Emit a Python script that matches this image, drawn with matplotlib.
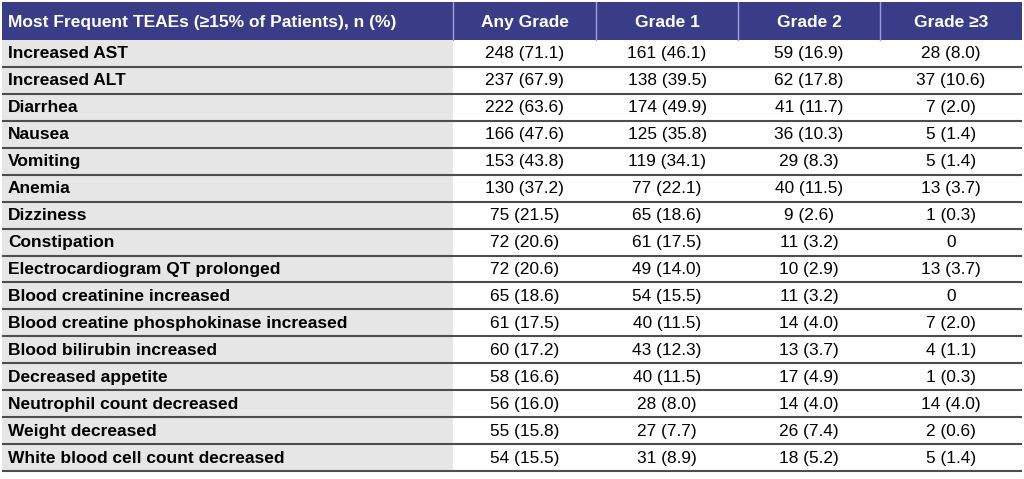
import matplotlib
matplotlib.use("Agg")
import matplotlib.pyplot as plt
from matplotlib.patches import Rectangle

plt.rcParams['font.family'] = ['Liberation Sans', 'DejaVu Sans']

header = ["Most Frequent TEAEs (\u226515% of Patients), n (%)",
          "Any Grade", "Grade 1", "Grade 2", "Grade \u22653"]

events = ["Increased AST", "Increased ALT", "Diarrhea", "Nausea", "Vomiting",
          "Anemia", "Dizziness", "Constipation", "Electrocardiogram QT prolonged",
          "Blood creatinine increased", "Blood creatine phosphokinase increased",
          "Blood bilirubin increased", "Decreased appetite",
          "Neutrophil count decreased", "Weight decreased",
          "White blood cell count decreased"]

any_grade = ["248 (71.1)", "237 (67.9)", "222 (63.6)", "166 (47.6)", "153 (43.8)",
             "130 (37.2)", "75 (21.5)", "72 (20.6)", "72 (20.6)", "65 (18.6)",
             "61 (17.5)", "60 (17.2)", "58 (16.6)", "56 (16.0)", "55 (15.8)",
             "54 (15.5)"]
grade1 = ["161 (46.1)", "138 (39.5)", "174 (49.9)", "125 (35.8)", "119 (34.1)",
          "77 (22.1)", "65 (18.6)", "61 (17.5)", "49 (14.0)", "54 (15.5)",
          "40 (11.5)", "43 (12.3)", "40 (11.5)", "28 (8.0)", "27 (7.7)",
          "31 (8.9)"]
grade2 = ["59 (16.9)", "62 (17.8)", "41 (11.7)", "36 (10.3)", "29 (8.3)",
          "40 (11.5)", "9 (2.6)", "11 (3.2)", "10 (2.9)", "11 (3.2)",
          "14 (4.0)", "13 (3.7)", "17 (4.9)", "14 (4.0)", "26 (7.4)",
          "18 (5.2)"]
grade3 = ["28 (8.0)", "37 (10.6)", "7 (2.0)", "5 (1.4)", "5 (1.4)",
          "13 (3.7)", "1 (0.3)", "0", "13 (3.7)", "0",
          "7 (2.0)", "4 (1.1)", "1 (0.3)", "14 (4.0)", "2 (0.6)",
          "5 (1.4)"]

columns = [any_grade, grade1, grade2, grade3]

# layout in pixels
col_edges = [2, 453, 596, 738, 880, 1022]
header_top = 2
header_bottom = 40
row_h = (471 - header_bottom) / len(events)

navy = "#393d88"
gray_bg = "#e6e6e6"
line_c = "#4d4d4d"

fig = plt.figure(figsize=(10.24, 4.79), dpi=100)
ax = fig.add_axes([0, 0, 1, 1])
ax.set_xlim(0, 1024)
ax.set_ylim(479, 0)
ax.axis("off")

# header
ax.add_patch(Rectangle((col_edges[0], header_top), col_edges[-1] - col_edges[0],
                       header_bottom - header_top, facecolor=navy, edgecolor="none"))
for x in col_edges[1:-1]:
    ax.plot([x, x], [header_top, header_bottom], color="#9aa0d8", lw=1.0)
ax.text(col_edges[0] + 6, (header_top + header_bottom) / 2 + 1, header[0],
        color="white", fontsize=12.55, fontweight="bold", ha="left", va="center")
for j in range(1, 5):
    cx = (col_edges[j] + col_edges[j + 1]) / 2
    ax.text(cx, (header_top + header_bottom) / 2 + 1, header[j], color="white",
            fontsize=12.55, fontweight="bold", ha="center", va="center")

# first column background
ax.add_patch(Rectangle((col_edges[0], header_bottom), col_edges[1] - col_edges[0],
                       row_h * len(events), facecolor=gray_bg, edgecolor="none"))

for i, ev in enumerate(events):
    y0 = header_bottom + i * row_h
    cy = y0 + row_h / 2 + 0.5
    ax.text(col_edges[0] + 6, cy, ev, fontsize=12.55, fontweight="bold",
            ha="left", va="center", color="black")
    for j, col in enumerate(columns):
        cx = (col_edges[j + 1] + col_edges[j + 2]) / 2
        ax.text(cx, cy, col[i], fontsize=12.4, ha="center", va="center", color="black")
    ax.plot([col_edges[0], col_edges[-1]], [y0 + row_h, y0 + row_h],
            color=line_c, lw=1.5, solid_capstyle="butt")

fig.savefig("out.png", dpi=100, facecolor="white")
